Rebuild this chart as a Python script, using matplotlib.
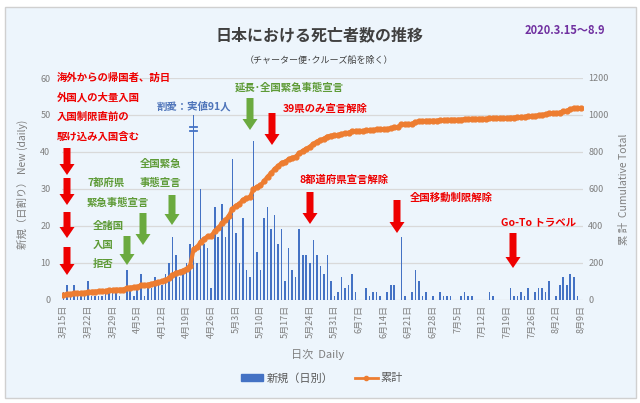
import matplotlib
matplotlib.use("Agg")
import matplotlib.pyplot as plt
import numpy as np
import pandas as pd
from matplotlib.patches import Polygon, Rectangle
from matplotlib.lines import Line2D

plt.rcParams["font.family"] = ["Noto Sans CJK JP", "DejaVu Sans"]

W, H = 640, 403

# daily deaths, 2020-03-15 .. 2020-08-09
daily = [
    2, 4, 1, 4, 1, 1, 1, 5, 1, 1,
    1, 1, 2, 2, 2, 2, 1, 0, 8, 3,
    1, 3, 7, 1, 4, 3, 6, 4, 4, 7,
    10, 17, 12, 6, 7, 10, 15, 91, 10, 30,
    15, 14, 3, 25, 17, 26, 17, 22, 38, 18,
    10, 22, 8, 6, 43, 13, 8, 22, 25, 19,
    23, 15, 19, 5, 14, 8, 6, 19, 12, 12,
    10, 16, 12, 9, 7, 12, 5, 1, 2, 6,
    3, 4, 7, 2, 0, 0, 3, 1, 2, 2,
    1, 0, 2, 4, 4, 0, 17, 1, 0, 2,
    8, 5, 1, 2, 0, 1, 0, 2, 1, 1,
    1, 0, 0, 1, 2, 1, 1, 0, 0, 0,
    0, 2, 1, 0, 0, 0, 0, 3, 1, 1,
    2, 1, 3, 0, 2, 3, 3, 2, 5, 0,
    1, 4, 6, 4, 7, 6, 1, 0,
]
base_total = 22  # deaths before 3/15
bar_cap = 50     # the 91 bar is cut at 50

dates = pd.date_range("2020-03-15", "2020-08-09", freq="D")
day_labels = [f"{d.month}月{d.day}日" for d in dates]

BLUE = "#4472C4"
ORANGE = "#ED7D31"
GRAY = "#7F7F7F"
RED = "#EE0000"
GREEN_TXT = "#5E9B37"
GREEN = "#6BAA3F"


def fx(x):
    return x / W


def fy(y):
    return 1 - y / H


fig = plt.figure(figsize=(W / 100, H / 100), dpi=100)
fig.patch.set_facecolor("white")
fig.add_artist(Rectangle((fx(5), fy(398)), (636 - 5) / W, (398 - 7) / H,
                         transform=fig.transFigure, facecolor="#EDF5FC",
                         edgecolor="#D0D0D0", lw=1, zorder=0))

ax = fig.add_axes([fx(61.6), fy(299.5), 521 / W, 221.5 / H])
ax.set_facecolor("none")
ax2 = ax.twinx()

x = np.arange(len(daily))
vals = np.array(daily)
shown = np.minimum(vals, bar_cap)
cum = base_total + np.cumsum(vals)

ax.bar(x, shown, width=0.45, color=BLUE, zorder=2, label="新規（日別）")
# break mark on the clipped bar
big = int(np.argmax(vals))
ax.plot([big - 0.9, big + 0.9], [45.6, 45.6], color=BLUE, lw=1.3, zorder=3)
ax.plot([big - 0.9, big + 0.9], [46.6, 46.6], color=BLUE, lw=1.3, zorder=3)

ax2.plot(x, cum, color=ORANGE, lw=3, marker="o", ms=3.5, zorder=3, label="累計")

ax.set_xlim(-0.5, len(daily) - 0.5)
ax.set_ylim(0, 60)
ax2.set_ylim(0, 1200)
ax.set_yticks(range(0, 61, 10))
ax2.set_yticks(range(0, 1201, 200))
ax.set_xticks(x[::7])
ax.set_xticklabels(day_labels[::7], rotation=90)

ax.yaxis.grid(True, color="#D9D9D9", lw=0.9)
ax.set_axisbelow(True)
for a in (ax, ax2):
    for s in a.spines.values():
        s.set_visible(False)
ax.tick_params(axis="x", length=0, pad=4, labelsize=6.5, labelcolor=GRAY)
ax.tick_params(axis="y", length=0, pad=8, labelsize=6.5, labelcolor=GRAY)
ax2.tick_params(axis="y", length=0, pad=4, labelsize=6.5, labelcolor=GRAY)

# titles and axis labels
fig.text(fx(320), fy(35), "日本における死亡者数の推移", ha="center", va="center",
         fontsize=11.5, fontweight="bold", color="#404040")
fig.text(fx(319), fy(60), "（チャーター便･クルーズ船を除く）", ha="center", va="center",
         fontsize=6.5, color="#404040")
fig.text(fx(565), fy(31), "2020.3.15～8.9", ha="center", va="center",
         fontsize=8, fontweight="bold", color="#7030A0")
fig.text(fx(22), fy(184), "新規（日割り） New (daily)", rotation=90, ha="center",
         va="center", fontsize=7.5, color=GRAY)
fig.text(fx(624), fy(189), "累 計  Cumulative Total", rotation=90, ha="center",
         va="center", fontsize=7.5, color=GRAY)
fig.text(fx(318), fy(355), "日次  Daily", ha="center", va="center",
         fontsize=8, color=GRAY)

handles = [Rectangle((0, 0), 1, 1, color=BLUE),
           Line2D([], [], color=ORANGE, lw=2, marker="o", ms=3)]
fig.legend(handles, ["新規（日別）", "累計"], loc="center", ncol=2,
           bbox_to_anchor=(fx(322), fy(378)), frameon=False, fontsize=8,
           handlelength=2, handleheight=0.5, columnspacing=2, handletextpad=0.3,
           labelcolor="#595959")


def arrow(x0, y0, y1, color, shaft=7, head=15, hl=11):
    pts = [(x0 - shaft / 2, y0), (x0 + shaft / 2, y0), (x0 + shaft / 2, y1 - hl),
           (x0 + head / 2, y1 - hl), (x0, y1), (x0 - head / 2, y1 - hl),
           (x0 - shaft / 2, y1 - hl)]
    fig.add_artist(Polygon([(fx(px), fy(py)) for px, py in pts], closed=True,
                           transform=fig.transFigure, facecolor=color, lw=0, zorder=5))


def note(x0, y0, s, color):
    fig.text(fx(x0), fy(y0), s, ha="left", va="center", fontsize=7.5,
             fontweight="bold", color=color, zorder=6)


note(57, 78, "海外からの帰国者、訪日", RED)
note(57, 97, "外国人の大量入国", RED)
note(57, 117, "入国制限直前の", RED)
note(57, 137, "駆け込み入国含む", RED)
for a, b in [(148, 175), (178, 205), (212, 238), (247, 275)]:
    arrow(67, a, b, RED)

note(87, 183, "7都府県", GREEN_TXT)
note(87, 203, "緊急事態宣言", GREEN_TXT)
arrow(143, 213, 245, GREEN)
note(93, 226, "全諸国", GREEN_TXT)
note(93, 245, "入国", GREEN_TXT)
note(93, 264, "拒否", GREEN_TXT)
arrow(127, 236, 265, GREEN)
note(140, 164, "全国緊急", GREEN_TXT)
note(140, 183, "事態宣言", GREEN_TXT)
arrow(172, 195, 225, GREEN)
note(157, 106, "割愛：実値91人", "#4F75BA")
note(235, 87, "延長･全国緊急事態宣言", GREEN_TXT)
arrow(250, 98, 130, GREEN)
note(283, 109, "39県のみ宣言解除", RED)
arrow(272, 113, 145, RED)
note(300, 180, "8都道府県宣言解除", RED)
arrow(310, 192, 224, RED)
note(410, 198, "全国移動制限解除", RED)
arrow(397, 200, 233, RED)
note(501, 222, "Go-To トラベル", RED)
arrow(513, 233, 268, RED)

fig.savefig("out.png", dpi=100)
